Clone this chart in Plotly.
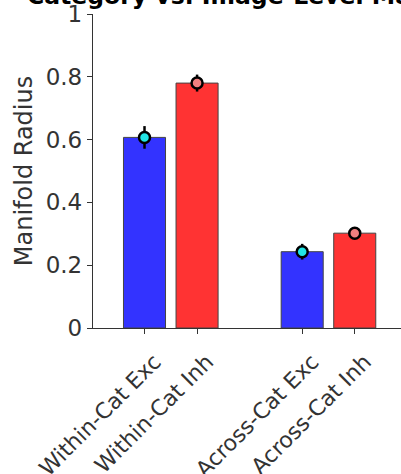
import plotly.graph_objects as go

categories = ["Within-Cat Exc", "Within-Cat Inh", "Across-Cat Exc", "Across-Cat Inh"]
positions = [0, 1, 3, 4]
values = [0.607, 0.780, 0.243, 0.302]
errors = [0.036, 0.027, 0.025, 0.010]
bar_colors = ["#3333ff", "#ff3333", "#3333ff", "#ff3333"]
marker_colors = ["#22e5e5", "#f08080", "#22e5e5", "#f08080"]
yticks = [0, 0.2, 0.4, 0.6, 0.8, 1]
ytick_text = ["0", "0.2", "0.4", "0.6", "0.8", "1"]
title_text = "Category vs. Image-Level Manifold Radius"

font_family = "DejaVu Sans"
axis_color = "#333333"

fig = go.Figure()
fig.add_trace(go.Bar(
    x=positions, y=values, width=0.8,
    marker=dict(color=bar_colors, line=dict(color="#444444", width=1)),
    showlegend=False, hoverinfo="skip",
))
fig.add_trace(go.Scatter(
    x=positions, y=values, mode="markers",
    marker=dict(color=marker_colors, size=11, line=dict(color="black", width=2.5)),
    error_y=dict(type="data", array=errors, visible=True, color="black", thickness=2.5, width=0),
    showlegend=False, cliponaxis=False,
))

fig.add_annotation(
    text="<b>" + title_text + "</b>", showarrow=False,
    xref="paper", yref="paper", x=(25 - 93) / 308, y=332 / 314,
    xanchor="left", yanchor="middle",
    font=dict(family=font_family, size=23.5, color="black"),
)

fig.update_layout(
    width=401, height=474,
    margin=dict(l=93, r=0, t=14, b=146),
    plot_bgcolor="white", paper_bgcolor="white",
    font=dict(family=font_family, size=23, color="#333333"),
    xaxis=dict(
        range=[-0.98, 4.88], tickmode="array", tickvals=positions, ticktext=categories,
        tickangle=-45, ticks="outside", ticklen=5, tickcolor=axis_color, tickwidth=1.3,
        showline=True, linecolor=axis_color, linewidth=1.3, showgrid=False, zeroline=False,
        tickfont=dict(size=22), automargin=False, ticklabelshift=10, ticklabelstandoff=6,
    ),
    yaxis=dict(
        range=[0, 1], tickmode="array", tickvals=yticks, ticktext=ytick_text,
        ticks="outside", ticklen=5, tickcolor=axis_color, tickwidth=1.3,
        showline=True, linecolor=axis_color, linewidth=1.3, showgrid=False, zeroline=False,
        title=dict(text="Manifold Radius", standoff=6, font=dict(size=24)),
        tickfont=dict(size=23), automargin=False,
    ),
)

fig.write_html("out.html", config={"displayModeBar": False},
               post_script="document.body.style.margin='0';")
